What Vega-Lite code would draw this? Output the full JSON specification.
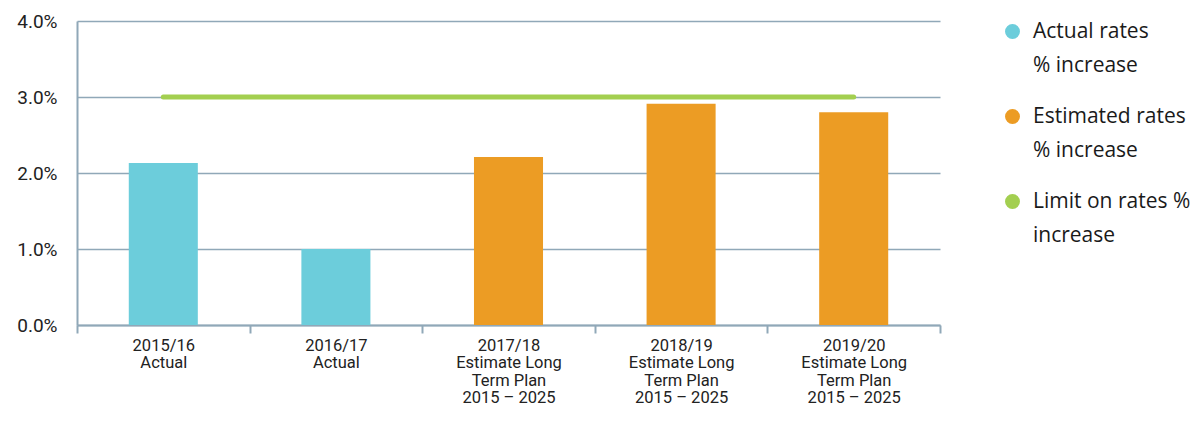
{
  "$schema": "https://vega.github.io/schema/vega-lite/v6.json",
  "autosize": {"type": "none"},
  "width": 863,
  "height": 304,
  "padding": {"left": 77, "top": 21, "right": 257, "bottom": 96},
  "background": "white",
  "data": {
    "values": [
      {"year": "2015/16|Actual", "rate": 0.0213, "type": "Actual rates|% increase", "limit": 0.03},
      {"year": "2016/17|Actual", "rate": 0.0100, "type": "Actual rates|% increase", "limit": 0.03},
      {"year": "2017/18|Estimate Long|Term Plan|2015 – 2025", "rate": 0.0221, "type": "Estimated rates|% increase", "limit": 0.03},
      {"year": "2018/19|Estimate Long|Term Plan|2015 – 2025", "rate": 0.0291, "type": "Estimated rates|% increase", "limit": 0.03},
      {"year": "2019/20|Estimate Long|Term Plan|2015 – 2025", "rate": 0.0280, "type": "Estimated rates|% increase", "limit": 0.03}
    ]
  },
  "encoding": {
    "x": {
      "field": "year", "type": "nominal", "sort": null,
      "scale": {"paddingInner": 0, "paddingOuter": 0},
      "axis": {
        "title": null, "labelAngle": 0,
        "labelExpr": "split(datum.label, '|')",
        "labelFont": "Roboto", "labelFontSize": 16.5, "labelColor": "#222222",
        "labelLineHeight": 17.5, "labelPadding": 4, "labelBaseline": "top",
        "tickBand": "extent", "tickSize": 8, "tickColor": "#90a8b8", "tickWidth": 2,
        "domainColor": "#90a8b8", "domainWidth": 2, "labelLimit": 200
      }
    }
  },
  "layer": [
    {
      "mark": {"type": "bar", "width": {"band": 0.4}},
      "encoding": {
        "y": {
          "field": "rate", "type": "quantitative",
          "scale": {"domain": [0, 0.04]},
          "axis": {
            "title": null, "format": ".1%", "values": [0, 0.01, 0.02, 0.03, 0.04],
            "ticks": false, "labelPadding": 20, "labelOverlap": false, "labelFlush": false,
            "labelFont": "Roboto", "labelFontSize": 19, "labelColor": "#222222",
            "domainColor": "#90a8b8", "domainWidth": 2,
            "grid": true, "gridColor": "#90a8b8", "gridWidth": 1.5
          }
        },
        "color": {
          "field": "type", "type": "nominal",
          "scale": {
            "domain": ["Actual rates|% increase", "Estimated rates|% increase", "Limit on rates %|increase"],
            "range": ["#6ccddb", "#ec9c24", "#a3cf50"]
          },
          "legend": {
            "title": null, "orient": "right", "offset": 62,
            "symbolType": "circle", "symbolSize": 180,
            "labelExpr": "split(datum.label, '|')",
            "labelFont": "Open Sans", "labelFontSize": 21, "labelColor": "#1a1a1a",
            "labelOffset": 10, "rowPadding": 29, "labelLimit": 250,
            "encode": {"symbols": {"update": {"fill": {"scale": "color", "field": "value"}, "stroke": {"value": "transparent"}}}}
          }
        }
      }
    },
    {
      "mark": {"type": "line", "strokeWidth": 5, "strokeCap": "round"},
      "encoding": {
        "y": {"field": "limit", "type": "quantitative"},
        "color": {"datum": "Limit on rates %|increase"}
      }
    }
  ],
  "config": {
    "view": {"stroke": null},
    "style": {"guide-label": {"lineHeight": 34}}
  }
}
